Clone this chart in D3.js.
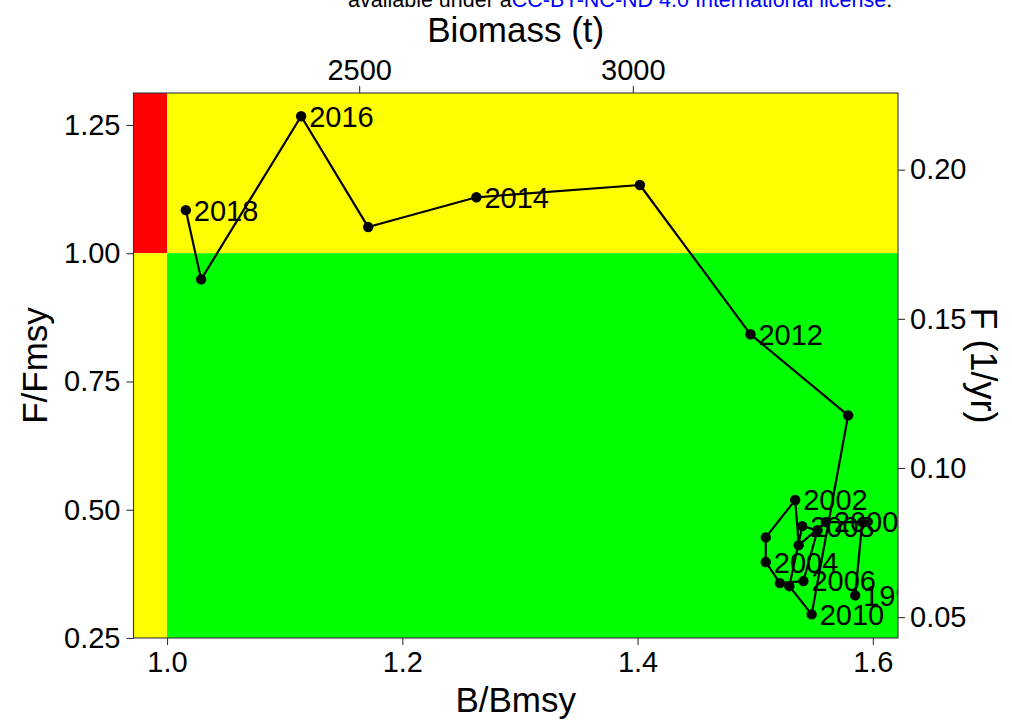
<!DOCTYPE html>
<html>
<head>
<meta charset="utf-8">
<script src="https://cdn.jsdelivr.net/npm/d3@7"></script>
<style>
  html, body { margin: 0; padding: 0; background: #ffffff; }
  svg { display: block; font-family: "Liberation Sans", Arial, Helvetica, sans-serif; }
</style>
</head>
<body>
<svg id="chart" width="1012" height="724"></svg>
<script>
// ---- data ----
const years  = [1998, 1999, 2000, 2001, 2002, 2003, 2004, 2005, 2006, 2007, 2008, 2009, 2010, 2011, 2012, 2013, 2014, 2015, 2016, 2017, 2018];
const bBmsy  = [1.585, 1.591, 1.560, 1.537, 1.534, 1.509, 1.509, 1.521, 1.541, 1.553, 1.540, 1.529, 1.548, 1.579, 1.496, 1.402, 1.263, 1.171, 1.114, 1.029, 1.016];
const fFmsy  = [0.333, 0.476, 0.476, 0.431, 0.519, 0.446, 0.398, 0.357, 0.361, 0.460, 0.468, 0.351, 0.296, 0.684, 0.842, 1.133, 1.109, 1.051, 1.267, 0.949, 1.084];
const labelYears = [1998, 2000, 2002, 2004, 2006, 2008, 2010, 2012, 2014, 2016, 2018];
const xTicks = [1.0, 1.2, 1.4, 1.6];
const yTicks = [0.25, 0.50, 0.75, 1.00, 1.25];
const biomassTicks = [2500, 3000];
const fTicks = [0.05, 0.10, 0.15, 0.20];
const Bmsy = 2149;
const Fmsy = 0.172;
const xDomain = [0.9715, 1.6214];
const yDomain = [0.25, 1.3123];

// ---- layout ----
const svg = d3.select("#chart");
const P = { left: 133.5, right: 898, top: 93, bottom: 638 };

const x = d3.scaleLinear().domain(xDomain).range([P.left, P.right]);
const y = d3.scaleLinear().domain(yDomain).range([P.bottom, P.top]);
const xTop = d3.scaleLinear().domain(xDomain.map(d => d * Bmsy)).range([P.left, P.right]);
const yRight = d3.scaleLinear().domain(yDomain.map(d => d * Fmsy)).range([P.bottom, P.top]);

// header note (cut off at top)
const note = svg.append("text").attr("x", 348).attr("y", 7).attr("font-size", 21.5).attr("fill", "#000");
note.append("tspan").text("available under a");
note.append("tspan").attr("fill", "#0000ff").text("CC-BY-NC-ND 4.0 International license");
note.append("tspan").text(".");

// clip
svg.append("defs").append("clipPath").attr("id", "panel")
  .append("rect").attr("x", P.left).attr("y", P.top).attr("width", P.right - P.left).attr("height", P.bottom - P.top);

const g = svg.append("g").attr("clip-path", "url(#panel)");

// zones
const zones = [
  { x0: xDomain[0], x1: 1, y0: 1, y1: yDomain[1], c: "#ff0000" },
  { x0: xDomain[0], x1: 1, y0: yDomain[0], y1: 1, c: "#ffff00" },
  { x0: 1, x1: xDomain[1], y0: 1, y1: yDomain[1], c: "#ffff00" },
  { x0: 1, x1: xDomain[1], y0: yDomain[0], y1: 1, c: "#00ff00" }
];
g.selectAll("rect.zone").data(zones).join("rect").attr("class", "zone")
  .attr("x", d => x(d.x0)).attr("width", d => x(d.x1) - x(d.x0))
  .attr("y", d => y(d.y1)).attr("height", d => y(d.y0) - y(d.y1))
  .attr("fill", d => d.c);

const pts = years.map((yr, i) => ({ yr, bx: bBmsy[i], fy: fFmsy[i] }));

g.append("path").datum(pts)
  .attr("fill", "none").attr("stroke", "#000").attr("stroke-width", 2.2)
  .attr("stroke-linejoin", "round")
  .attr("d", d3.line().x(d => x(d.bx)).y(d => y(d.fy)));

g.selectAll("circle").data(pts).join("circle")
  .attr("cx", d => x(d.bx)).attr("cy", d => y(d.fy)).attr("r", 5.2).attr("fill", "#000");

g.selectAll("text.lab").data(pts.filter(d => labelYears.includes(d.yr))).join("text")
  .attr("class", "lab")
  .attr("x", d => x(d.bx) + 8).attr("y", d => y(d.fy))
  .attr("dy", "0.36em").attr("font-size", 29).attr("fill", "#000")
  .text(d => d.yr);

// panel border
svg.append("rect").attr("x", P.left).attr("y", P.top)
  .attr("width", P.right - P.left).attr("height", P.bottom - P.top)
  .attr("fill", "none").attr("stroke", "#333").attr("stroke-width", 1.1);

// axes
function styleAxis(sel) {
  sel.select(".domain").remove();
  sel.selectAll(".tick line").attr("stroke", "#333").attr("stroke-width", 1.1);
  sel.selectAll(".tick text").attr("fill", "#000").attr("font-size", 29)
    .attr("font-family", "'Liberation Sans', Arial, sans-serif");
}
svg.append("g").attr("transform", `translate(0,${P.bottom})`)
  .call(d3.axisBottom(x).tickValues(xTicks).tickFormat(d3.format(".1f")).tickSize(7).tickPadding(6))
  .call(styleAxis);
svg.append("g").attr("transform", `translate(${P.left},0)`)
  .call(d3.axisLeft(y).tickValues(yTicks).tickFormat(d3.format(".2f")).tickSize(7).tickPadding(6))
  .call(styleAxis);
svg.append("g").attr("transform", `translate(0,${P.top})`)
  .call(d3.axisTop(xTop).tickValues(biomassTicks).tickFormat(d3.format("d")).tickSize(7).tickPadding(6))
  .call(styleAxis);
svg.append("g").attr("transform", `translate(${P.right},0)`)
  .call(d3.axisRight(yRight).tickValues(fTicks).tickFormat(d3.format(".2f")).tickSize(7).tickPadding(5))
  .call(styleAxis);

// titles
const cx = (P.left + P.right) / 2, cy = (P.top + P.bottom) / 2;
svg.append("text").attr("x", cx).attr("y", 712).attr("text-anchor", "middle").attr("font-size", 35).text("B/Bmsy");
svg.append("text").attr("x", cx).attr("y", 42).attr("text-anchor", "middle").attr("font-size", 35).text("Biomass (t)");
svg.append("text").attr("transform", `translate(47,${cy}) rotate(-90)`).attr("text-anchor", "middle").attr("font-size", 35).text("F/Fmsy");
svg.append("text").attr("transform", `translate(971,${cy}) rotate(90)`).attr("text-anchor", "middle").attr("font-size", 36).text("F (1/yr)");
</script>
</body>
</html>
